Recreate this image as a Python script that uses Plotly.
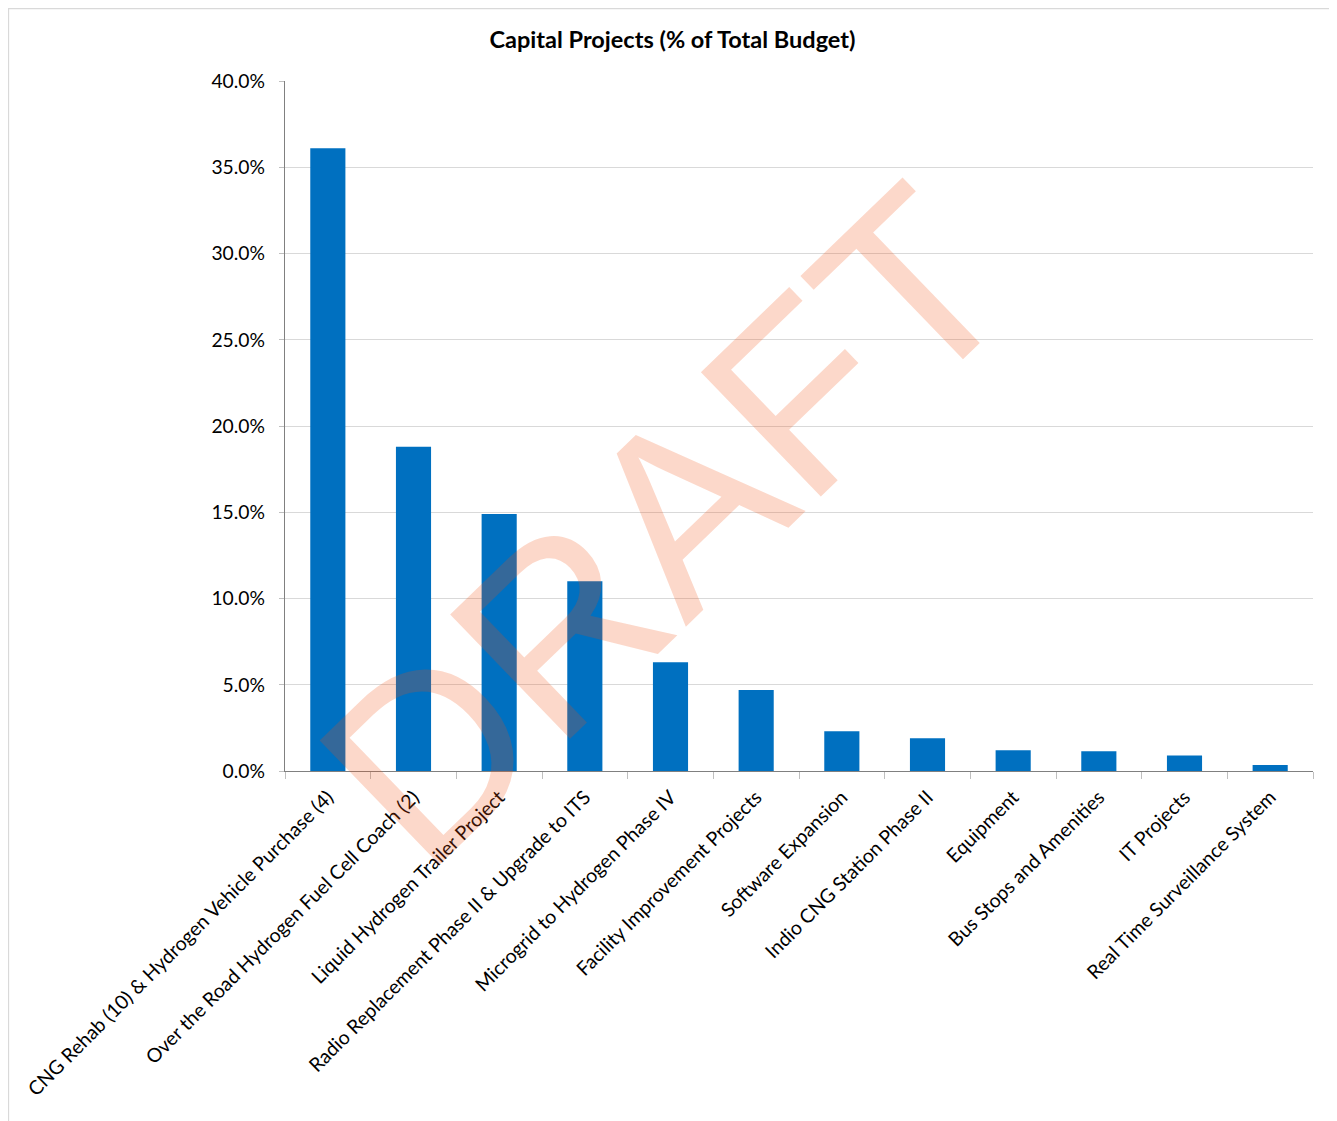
import plotly.graph_objects as go

categories = [
    "CNG Rehab (10) & Hydrogen Vehicle Purchase (4)",
    "Over the Road Hydrogen Fuel Cell Coach (2)",
    "Liquid Hydrogen Trailer Project",
    "Radio Replacement Phase II & Upgrade to ITS",
    "Microgrid to Hydrogen Phase IV",
    "Facility Improvement Projects",
    "Software Expansion",
    "Indio CNG Station Phase II",
    "Equipment",
    "Bus Stops and Amenities",
    "IT Projects",
    "Real Time Surveillance System",
]
values = [0.361, 0.188, 0.149, 0.110, 0.063, 0.047, 0.023, 0.019, 0.012, 0.0115, 0.009, 0.0035]
y_ticks = [0, 0.05, 0.10, 0.15, 0.20, 0.25, 0.30, 0.35, 0.40]
y_tick_labels = ["0.0%", "5.0%", "10.0%", "15.0%", "20.0%", "25.0%", "30.0%", "35.0%", "40.0%"]

FONT = "Lato"

fig = go.Figure(go.Bar(
    x=categories, y=values,
    marker=dict(color="#0070C0", line=dict(width=0)),
))

# page body adds an 8px offset; figure coords = screen coords - 8
W, H = 1329, 1113
L, R, T, B = 277, 24, 73, 350
pw, ph = W - L - R, H - T - B

def px_to_paper_x(px):
    return (px - L) / pw

def px_to_paper_y(py):
    return (H - B - py) / ph

fig.update_layout(
    width=W, height=H,
    margin=dict(l=L, r=R, t=T, b=B, autoexpand=False),
    paper_bgcolor="white", plot_bgcolor="white",
    bargap=0.59,
    showlegend=False,
    font=dict(family=FONT, color="#000000", size=19),
    title=dict(text="<b>Capital Projects (% of Total Budget)</b>", x=0.5, xanchor="center",
               y=1 - 32 / H, yanchor="middle", font=dict(family=FONT, size=23.5, color="#000000")),
    xaxis=dict(
        type="category", tickangle=-45, tickfont=dict(family=FONT, size=19.5, color="#000000"),
        showline=True, linecolor="#808080", linewidth=1.3,
        ticks="outside", ticklen=7, tickcolor="#BFBFBF", tickson="boundaries",
        ticklabelstandoff=6,
        showgrid=False, mirror=False,
    ),
    yaxis=dict(
        range=[0, 0.40], tickvals=y_ticks, ticktext=y_tick_labels,
        tickfont=dict(family=FONT, size=19.3, color="#000000"),
        showline=True, linecolor="#808080", linewidth=1.3,
        ticks="outside", ticklen=5, tickcolor="#BFBFBF",
        ticklabelstandoff=10,
        showgrid=True, gridcolor="#D9D9D9", gridwidth=1, zeroline=False,
    ),
    shapes=[dict(
        type="rect", xref="paper", yref="paper",
        x0=px_to_paper_x(0.5), x1=px_to_paper_x(1328),
        y0=px_to_paper_y(1125), y1=px_to_paper_y(0.5),
        line=dict(color="#D9D9D9", width=1.3), fillcolor="rgba(0,0,0,0)", layer="below",
    )],
    annotations=[dict(
        text="DRAFT", xref="paper", yref="paper",
        x=px_to_paper_x(657), y=px_to_paper_y(518), xanchor="center", yanchor="middle",
        textangle=-44, showarrow=False,
        font=dict(family="Liberation Sans", size=251, color="rgba(241,76,13,0.22)"),
    )],
)

fig.write_html("out.html")
